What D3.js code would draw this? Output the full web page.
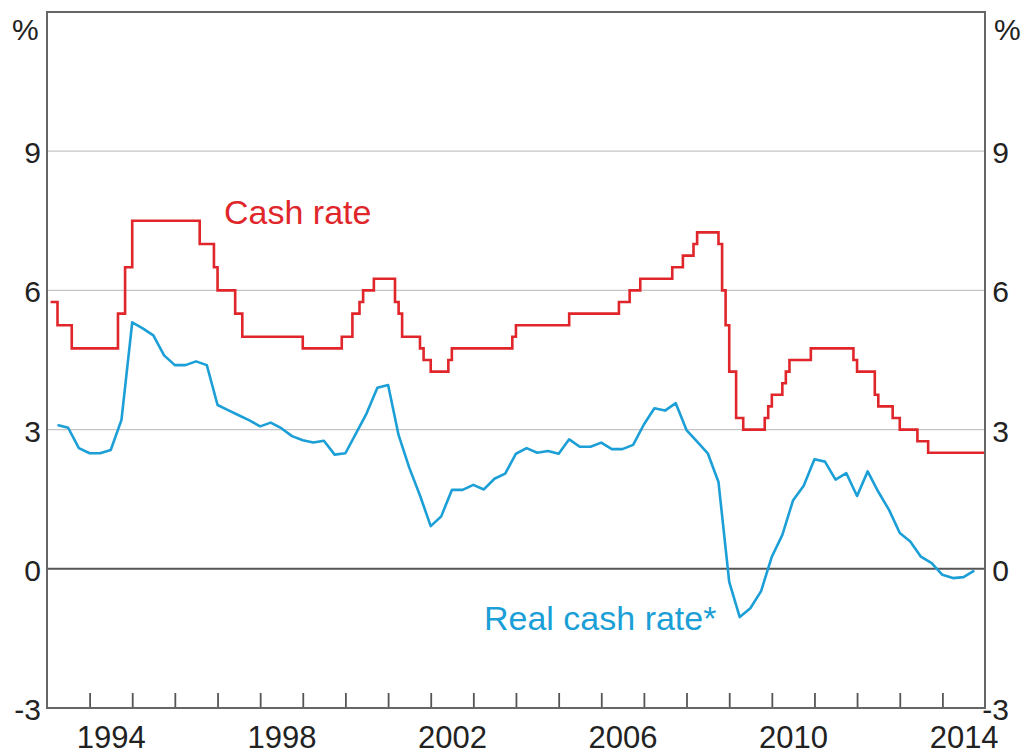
<!DOCTYPE html>
<html>
<head>
<meta charset="utf-8">
<script src="https://cdn.jsdelivr.net/npm/d3@7"></script>
<style>
  html, body { margin: 0; padding: 0; background: #fff; }
  svg { display: block; }
  text { font-family: "Liberation Sans", Arial, Helvetica, sans-serif; }
</style>
</head>
<body>
<svg id="chart" width="1027" height="755"></svg>
<script>
// ---------------- DATA ----------------
// Cash rate: month of change and new target (%)
const cashMonths = ["1993-01","1993-03","1993-07","1994-08","1994-10","1994-12","1996-07","1996-11","1996-12",
  "1997-05","1997-07","1998-12","1999-11","2000-02","2000-04","2000-05","2000-08","2001-02","2001-03","2001-04",
  "2001-09","2001-10","2001-12","2002-05","2002-06","2003-11","2003-12","2005-03","2006-05","2006-08","2006-11",
  "2007-08","2007-11","2008-02","2008-03","2008-09","2008-10","2008-11","2008-12","2009-02","2009-04","2009-10",
  "2009-11","2009-12","2010-03","2010-04","2010-05","2010-11","2011-11","2011-12","2012-05","2012-06","2012-10",
  "2012-12","2013-05","2013-08"];
const cashRates = [5.75,5.25,4.75,5.5,6.5,7.5,7.0,6.5,6.0,
  5.5,5.0,4.75,5.0,5.5,5.75,6.0,6.25,5.75,5.5,5.0,
  4.75,4.5,4.25,4.5,4.75,5.0,5.25,5.5,5.75,6.0,6.25,
  6.5,6.75,7.0,7.25,7.0,6.0,5.25,4.25,3.25,3.0,3.25,
  3.5,3.75,4.0,4.25,4.5,4.75,4.5,4.25,3.75,3.5,3.25,
  3.0,2.75,2.5];

// Real cash rate: quarterly, first quarter = 1993 Q1
const realStartQuarter = "1993-Q1";
const realRates = [
  3.10,3.04,2.60,2.49,      // 1993
  2.49,2.56,3.21,5.31,      // 1994
  5.18,5.03,4.60,4.39,      // 1995
  4.39,4.47,4.39,3.53,      // 1996
  3.42,3.31,3.20,3.07,      // 1997
  3.15,3.03,2.86,2.77,      // 1998
  2.72,2.76,2.46,2.49,      // 1999
  2.92,3.35,3.90,3.96,      // 2000
  2.88,2.18,1.58,0.92,      // 2001
  1.13,1.70,1.70,1.81,      // 2002
  1.71,1.94,2.05,2.48,      // 2003
  2.60,2.50,2.54,2.48,      // 2004
  2.79,2.63,2.63,2.72,      // 2005
  2.58,2.58,2.67,3.11,      // 2006
  3.46,3.41,3.57,2.99,      // 2007
  2.74,2.49,1.87,-0.28,     // 2008
  -1.04,-0.85,-0.48,0.26,   // 2009
  0.73,1.47,1.79,2.36,      // 2010
  2.31,1.92,2.06,1.57,      // 2011
  2.10,1.66,1.27,0.77,      // 2012
  0.59,0.26,0.12,-0.13,     // 2013
  -0.20,-0.18,-0.04         // 2014
];

const yTickValues = [-3, 0, 3, 6, 9];
const gridValues = [3, 6, 9];
const xLabelYears = ["1994","1998","2002","2006","2010","2014"];
const xDomainYears = [1993, 2015];

// ---------------- CHART ----------------
const svg = d3.select("#chart");
const L = 47, R = 985, T = 12, B = 708;
const RED = "#e0262b", BLUE = "#1b9fd6";
const FONT = '"Liberation Sans", Arial, sans-serif';

const x = d3.scaleTime()
  .domain([new Date(xDomainYears[0],0,1), new Date(xDomainYears[1],0,1)])
  .range([L, R]);
const y = d3.scaleLinear().domain([-3, 12]).range([B, T]);

// gridlines
svg.append("g").selectAll("line").data(gridValues).join("line")
  .attr("x1", L).attr("x2", R)
  .attr("y1", d => y(d)).attr("y2", d => y(d))
  .attr("stroke", "#c4c4c4").attr("stroke-width", 1.3);

// zero line
svg.append("line").attr("x1", L).attr("x2", R).attr("y1", y(0)).attr("y2", y(0))
  .attr("stroke", "#555").attr("stroke-width", 2);

// x ticks (year starts, pointing inward)
const yearStarts = d3.range(xDomainYears[0] + 1, xDomainYears[1]).map(yr => new Date(yr, 0, 1));
svg.append("g").attr("transform", `translate(0,${B})`)
  .call(d3.axisBottom(x).tickValues(yearStarts).tickSize(-15).tickFormat(""))
  .call(g => g.select(".domain").remove())
  .call(g => g.selectAll(".tick line").attr("stroke", "#555").attr("stroke-width", 1.8));

// x labels at mid-year
svg.append("g").attr("transform", `translate(0,${B})`)
  .call(d3.axisBottom(x).tickValues(xLabelYears.map(s => new Date(+s, 6, 2))).tickSize(0)
    .tickFormat(d => d3.timeFormat("%Y")(d)))
  .call(g => g.select(".domain").remove())
  .call(g => g.selectAll(".tick text").attr("y", 40).attr("dy", 0)
    .attr("font-size", 31).attr("fill", "#222").style("font-family", FONT));

const fmt = d => d < 0 ? "-" + Math.abs(d) : String(d);

// left axis labels
svg.append("g").attr("transform", `translate(${L},0)`)
  .call(d3.axisLeft(y).tickValues(yTickValues).tickSize(0).tickPadding(6).tickFormat(fmt))
  .call(g => g.select(".domain").remove())
  .call(g => g.selectAll(".tick text").attr("font-size", 30).attr("dy", "0.38em")
    .attr("fill", "#222").style("font-family", FONT));

// right axis labels (right-aligned)
svg.append("g").attr("transform", `translate(${R},0)`)
  .call(d3.axisRight(y).tickValues(yTickValues).tickSize(0).tickPadding(24).tickFormat(fmt))
  .call(g => g.select(".domain").remove())
  .call(g => g.selectAll(".tick text").attr("text-anchor", "end").attr("font-size", 30).attr("dy", "0.38em")
    .attr("fill", "#222").style("font-family", FONT));

// % unit labels
svg.append("text").attr("x", 12).attr("y", 40).attr("font-size", 30).attr("fill", "#222").text("%");
svg.append("text").attr("x", 994).attr("y", 40).attr("font-size", 30).attr("fill", "#222").text("%");

// cash rate step line (changes take effect at month end)
const parseMonth = d3.timeParse("%Y-%m");
const monthEnd = s => d3.timeMonth.offset(parseMonth(s), 1);
const cashPts = cashMonths.map((m, i) => ({ date: monthEnd(m), v: cashRates[i] }));
cashPts.push({ date: x.domain()[1], v: cashRates[cashRates.length - 1] });

svg.append("path").datum(cashPts)
  .attr("fill", "none").attr("stroke", RED).attr("stroke-width", 2.6)
  .attr("stroke-linejoin", "miter")
  .attr("d", d3.line().x(d => x(d.date)).y(d => y(d.v)).curve(d3.curveStepAfter));

// real cash rate (quarterly, plotted at quarter end)
const startYear = +realStartQuarter.slice(0, 4);
const startQ = +realStartQuarter.slice(-1);
const realPts = realRates.map((v, i) => ({ date: new Date(startYear, (startQ + i) * 3, 1), v }));
svg.append("path").datum(realPts)
  .attr("fill", "none").attr("stroke", BLUE).attr("stroke-width", 2.6)
  .attr("stroke-linejoin", "round")
  .attr("d", d3.line().x(d => x(d.date)).y(d => y(d.v)));

// frame
svg.append("rect").attr("x", L).attr("y", T).attr("width", R - L).attr("height", B - T)
  .attr("fill", "none").attr("stroke", "#666").attr("stroke-width", 2);

// series labels
svg.append("text").attr("x", 224).attr("y", 224).attr("font-size", 34).attr("fill", RED).text("Cash rate");
svg.append("text").attr("x", 484).attr("y", 630).attr("font-size", 34).attr("fill", BLUE).text("Real cash rate*");
</script>
</body>
</html>
